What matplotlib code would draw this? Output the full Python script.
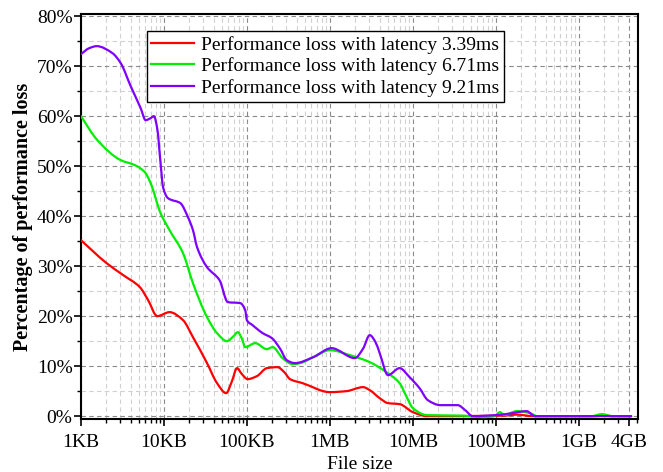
import matplotlib
matplotlib.use("Agg")
import numpy as np
import matplotlib.pyplot as plt
from matplotlib.path import Path
from matplotlib.patches import PathPatch
from matplotlib.lines import Line2D
from matplotlib.ticker import FixedLocator, LogLocator, MultipleLocator, FuncFormatter

# File size in KB
red_x = [1, 2.04, 3.24, 5.13, 6.46, 8.32, 11.7, 17.0, 22.4, 33.1,
         43.7, 56.2, 66.1, 75.9, 87.1, 102, 132, 174, 234, 282,
         331, 468, 1000, 1585, 2512, 3020, 3981, 5012, 6918, 10000,
         14791, 125893, 177828, 281838, 1584893, 1905461, 2511886, 4265795]
red_y = [35.2, 30.6, 28.2, 25.8, 23.2, 20.0, 20.8, 19.2, 15.8, 10.6,
         6.6, 4.6, 7.0, 9.6, 8.4, 7.4, 8.0, 9.6, 9.8, 8.8,
         7.4, 6.6, 4.8, 5.0, 5.8, 5.2, 3.6, 2.6, 2.4, 0.8,
         0.0, 0.1, 0.3, 0.0, 0.0, 0.2, 0.0, 0.0]

green_x = [1, 1.58, 3.02, 4.47, 5.89, 6.92, 9.12, 11.7, 17.0, 22.4,
           33.1, 43.7, 57.5, 69.2, 77.6, 87.1, 95.5, 126, 174, 204,
           269, 355, 437, 631, 1000, 1738, 3020, 4786, 6918, 8318,
           10000, 14791, 39811, 70795, 95499, 112202, 125893, 177828, 257040, 316228,
           1412538, 1905461, 2511886, 4265795]
green_y = [60, 55.2, 51.2, 50.2, 48.8, 46.6, 40.6, 37.2, 32.6, 26.6,
           19.8, 16.6, 15.0, 16.0, 16.8, 15.5, 13.8, 14.6, 13.4, 13.8,
           11.6, 10.4, 10.6, 11.8, 13.2, 12.2, 10.8, 8.8, 6.6, 4.0,
           1.6, 0.2, 0.1, -0.2, 0.0, 0.8, 0.2, 1.0, 0.6, 0.0,
           0.0, 0.4, 0.0, 0.0]

purple_x = [1, 1.26, 1.55, 2.40, 3.02, 3.98, 5.25, 6.03, 6.92, 7.59,
            8.32, 9.12, 9.77, 11.2, 15.8, 19.5, 22.4, 25.1, 33.1, 46.8,
            58.9, 83.2, 95.5, 100, 117, 155, 200, 251, 302, 380,
            631, 1047, 1995, 2512, 3020, 3548, 3981, 5012, 6918, 9120,
            12023, 15136, 21380, 34674, 42658, 52481, 100000, 158489, 234423, 295121,
            4265795]
purple_y = [72.4, 73.6, 74.0, 72.6, 70.6, 66, 61.6, 59.2, 59.6, 60,
            57.5, 50.6, 45.8, 43.6, 42.6, 39.8, 37.2, 33.8, 29.8, 27.2,
            22.8, 22.6, 21.2, 19.2, 18.2, 16.6, 15.6, 13.5, 11.2, 10.6,
            11.8, 13.6, 11.6, 13.5, 16.2, 14.8, 12.6, 8.2, 9.6, 7.8,
            5.6, 3.2, 2.2, 2.2, 1.2, 0.0, 0.2, 0.6, 1.0, 0.0,
            0.0]

labels = ["Performance loss with latency 3.39ms",
          "Performance loss with latency 6.71ms",
          "Performance loss with latency 9.21ms"]
colors = ["#ff0000", "#00ee00", "#8000ff"]

xtick_vals = [1, 10, 100, 1e3, 1e4, 1e5, 1e6, 4e6]
xtick_labels = ["1KB", "10KB", "100KB", "1MB", "10MB", "100MB", "1GB", "4GB"]
ytick_vals = [0, 10, 20, 30, 40, 50, 60, 70, 80]


def smooth_path(xs, ys):
    """Cubic Bezier path through the read points (monotone Hermite in log-x)."""
    lx = np.log10(np.asarray(xs, float))
    y = np.asarray(ys, float)
    h = np.diff(lx)
    d = np.diff(y) / h
    n = len(lx)
    m = np.zeros(n)
    m[0], m[-1] = d[0], d[-1]
    for i in range(1, n - 1):
        if d[i - 1] * d[i] <= 0:
            m[i] = 0.0
        else:
            w1 = 2 * h[i] + h[i - 1]
            w2 = h[i] + 2 * h[i - 1]
            m[i] = (w1 + w2) / (w1 / d[i - 1] + w2 / d[i])
    verts = [(10 ** lx[0], y[0])]
    codes = [Path.MOVETO]
    for i in range(n - 1):
        c1 = (lx[i] + h[i] / 3, y[i] + m[i] * h[i] / 3)
        c2 = (lx[i + 1] - h[i] / 3, y[i + 1] - m[i + 1] * h[i] / 3)
        verts += [(10 ** c1[0], c1[1]), (10 ** c2[0], c2[1]), (10 ** lx[i + 1], y[i + 1])]
        codes += [Path.CURVE4] * 3
    return Path(verts, codes)


plt.rcParams['font.family'] = ['Liberation Serif', 'DejaVu Serif']

fig = plt.figure(figsize=(6.63, 4.72), dpi=100)
ax = fig.add_axes([0.122, 0.112, 0.840, 0.858])

ax.set_xscale('log')
ax.set_xlim(1, 10 ** 6.71)
ax.set_ylim(-0.6, 80.4)

handles = []
for xs, ys, lab, c in zip([red_x, green_x, purple_x], [red_y, green_y, purple_y], labels, colors):
    patch = PathPatch(smooth_path(xs, ys), fill=False, edgecolor=c, lw=1.6,
                      capstyle='round', joinstyle='round', zorder=3)
    ax.add_patch(patch)
    handles.append(Line2D([], [], color=c, lw=1.6, label=lab))

ax.xaxis.set_major_locator(FixedLocator(xtick_vals))
ax.set_xticklabels(xtick_labels)
ax.xaxis.set_minor_locator(LogLocator(base=10, subs=range(2, 10), numticks=20))
ax.xaxis.set_minor_formatter(FuncFormatter(lambda v, p: ""))
ax.yaxis.set_major_locator(FixedLocator(ytick_vals))
ax.yaxis.set_major_formatter(FuncFormatter(lambda v, p: f"{int(v)}%"))
ax.yaxis.set_minor_locator(MultipleLocator(5))

ax.grid(which='major', ls=(0, (4, 3)), color='#8a8a8a', lw=0.8)
ax.grid(which='minor', ls=(0, (4, 3)), color='#d0d0d0', lw=0.8)
ax.set_axisbelow(True)

ax.tick_params(which='both', direction='out', labelsize=14, top=False, right=False)
ax.tick_params(which='major', length=5, width=1.2)
ax.tick_params(which='minor', length=3, width=1.0)
ax.tick_params(axis='x', pad=6)
ax.tick_params(axis='y', pad=1)
for s in ax.spines.values():
    s.set_linewidth(1.5)

ax.set_xlabel("File size", fontsize=14, labelpad=3)
ax.set_ylabel("Percentage of performance loss", fontsize=14.5, fontweight='bold', labelpad=3)

leg = ax.legend(handles=handles, loc='upper left', bbox_to_anchor=(0.118, 0.958), borderaxespad=0,
                fontsize=14, fancybox=False, framealpha=1, edgecolor='black',
                handlelength=2.2, labelspacing=0.18, borderpad=0.25, handletextpad=0.35)
leg.get_frame().set_linewidth(1.0)

fig.savefig("out.png", dpi=100)
